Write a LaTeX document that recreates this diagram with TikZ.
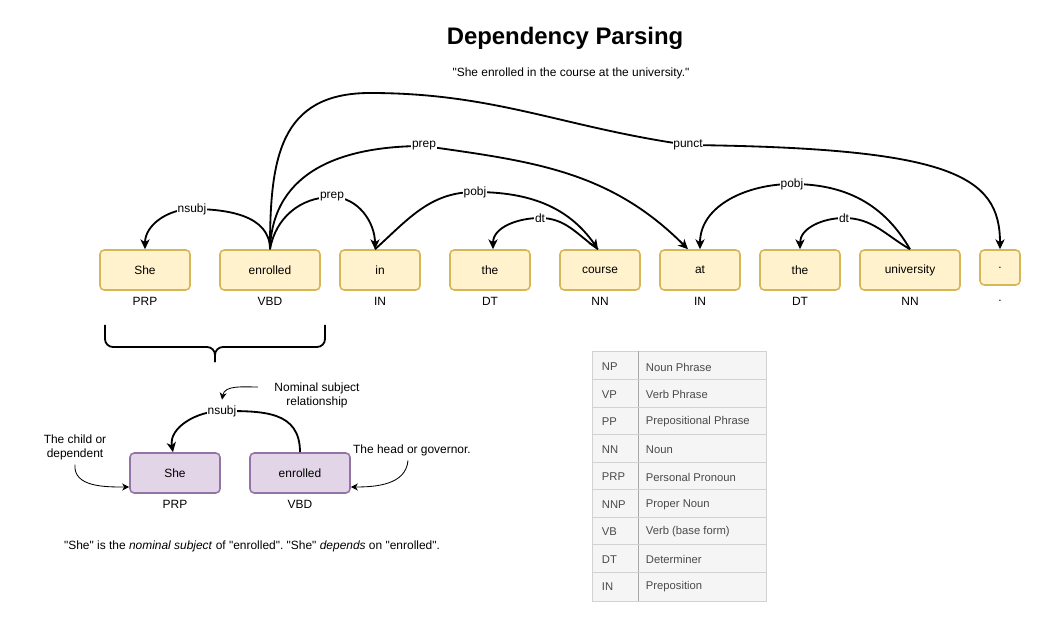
\documentclass[tikz,border=0pt]{standalone}
\usepackage{fontspec}
\setmainfont{Liberation Sans}[Ligatures=TeXOff]
\usepackage{tikz}
\usetikzlibrary{arrows.meta, positioning, calc}
\frenchspacing
\definecolor{wordfill}{HTML}{FFF2CC}
\definecolor{worddraw}{HTML}{D6B656}
\definecolor{pairfill}{HTML}{E1D5E7}
\definecolor{pairdraw}{HTML}{9673A6}
\definecolor{tblfill}{HTML}{F5F5F5}
\definecolor{tblrule}{HTML}{D2D2D2}
\definecolor{tbltext}{HTML}{4A4A4A}
\tikzset{
  word/.style={rectangle, draw=worddraw, fill=wordfill, minimum height=1cm,
    rounded corners=3pt, line width=1.1pt, font=\fontsize{8.5}{10}\selectfont},
  pair/.style={word, draw=pairdraw, fill=pairfill},
  tag/.style={font=\fontsize{8.5}{10}\selectfont},
  rel/.style={fill=white, inner sep=0.6pt, font=\fontsize{8.5}{10}\selectfont},
  dep/.style={-{Stealth[length=7pt,width=6.5pt,inset=2pt]}, line width=1.3pt},
  note/.style={align=center, font=\fontsize{8.5}{10}\selectfont},
  pointer/.style={-{Stealth[length=5pt,width=5pt,inset=1.5pt]}, line width=0.6pt},
  cell/.style={anchor=west, text=tbltext, font=\fontsize{8}{9.5}\selectfont}
}

\begin{document}
\begin{tikzpicture}[x=0.025cm, y=0.025cm]
    \useasboundingbox (0,0) rectangle (1041,-623);
    % Title
    \node[font=\fontsize{17}{20}\selectfont\bfseries] (title) at (565,-38) {Dependency Parsing};
    \node[font=\fontsize{8.5}{10}\selectfont] (sentence) at (571,-73) {"She enrolled in the course at the university."};
    % Words
    \node[word, minimum width=2.25cm] (she) at (145,-270) {She};
    \node[word, minimum width=2.5cm] (enrolled) at (270,-270) {enrolled};
    \node[word, minimum width=2cm] (in) at (380,-270) {in};
    \node[word, minimum width=2cm] (the) at (490,-270) {the};
    \node[word, minimum width=2cm] (course) at (600,-270) {course};
    \node[word, minimum width=2cm] (at) at (700,-270) {at};
    \node[word, minimum width=2cm] (thetwo) at (800,-270) {the};
    \node[word, minimum width=2.5cm] (university) at (910,-270) {university};
    \node[word, minimum width=1cm, minimum height=0.875cm] (dot) at (1000,-267.5) {.};
    % POS tags
    \node[tag] (tshe) at (145,-301) {PRP};
    \node[tag] (tenrolled) at (270,-301) {VBD};
    \node[tag] (tin) at (380,-301) {IN};
    \node[tag] (tthe) at (490,-301) {DT};
    \node[tag] (tcourse) at (600,-301) {NN};
    \node[tag] (tat) at (700,-301) {IN};
    \node[tag] (tthetwo) at (800,-301) {DT};
    \node[tag] (tuniversity) at (910,-301) {NN};
    \node[tag] (tdot) at (1000,-301) {.};
    % Arcs
    \draw[dep] (enrolled.north) to[out=90,in=180,looseness=1.25] (370,-93) to[out=0,in=172] (688,-145) node[rel] (lpunct) {punct}
      .. controls (950,-148) and (1000,-175) .. (dot.north);
    \draw[dep] (enrolled.north) to[out=88,in=180,looseness=1.1] (424,-146) node[rel] (lprepb) {prep}
      to[out=-8,in=135] ($(at.north)+(-12,0)$);
    \draw[dep] (enrolled.north) to[out=90,in=0] (192,-209) node[rel] (lnsubj) {nsubj} to[out=180,in=90] (she.north);
    \draw[dep] (enrolled.north) to[out=80,in=180] (332,-197) node[rel] (lprepa) {prep}
      to[out=0,in=90] ($(in.north)+(-5,0)$);
    \draw[dep] ($(in.north)+(-5,0)$) to[out=42,in=180] (475,-192) node[rel] (lpobja) {pobj}
      to[out=0,in=125] ($(course.north)+(-2,0)$);
    \draw[dep] ($(course.north)+(-2,0)$) to[out=145,in=0] (540,-218) node[rel] (ldta) {dt}
      to[out=180,in=90] ($(the.north)+(3,0)$);
    \draw[dep] (university.north) to[out=120,in=0] (792,-184) node[rel] (lpobjb) {pobj}
      to[out=180,in=90] (at.north);
    \draw[dep] (university.north) to[out=150,in=0] (844,-218) node[rel] (ldtb) {dt}
      to[out=180,in=90] (thetwo.north);
    % Brace
    \draw[line width=1.3pt, rounded corners=0.2cm] (105,-325) -- (105,-347) -- (215,-347) -- (215,-362);
    \draw[line width=1.3pt, rounded corners=0.2cm] (325,-325) -- (325,-347) -- (215,-347) -- (215,-362);
    % Example pair
    \node[pair, minimum width=2.25cm] (shepair) at (175,-473) {She};
    \node[pair, minimum width=2.5cm] (enrolledpair) at (300,-473) {enrolled};
    \node[tag] (tshepair) at (175,-504) {PRP};
    \node[tag] (tenrolledpair) at (300,-504) {VBD};
    \draw[dep] (enrolledpair.north) to[out=90,in=0,looseness=1.2] (222,-411) node[rel] (lnsubjpair) {nsubj}
      to[out=180,in=100] ($(shepair.north)+(-2,0)$);
    % Notes
    \node[note] (nomnote) at (317,-395) {Nominal subject\\relationship};
    \node[note] (childnote) at (75,-447) {The child or\\dependent};
    \node[note] (headnote) at (412,-450) {The head or governor.};
    \coordinate (nomtail) at (258,-387);
    \draw[pointer] (nomtail) to[out=180,in=80] ($(lnsubjpair.north)+(0,4)$);
    \draw[pointer] (childnote.south) to[out=-95,in=180] ($(shepair.west)+(0,-14)$);
    \draw[pointer] ($(headnote.south)+(-4,0)$) to[out=-95,in=0] ($(enrolledpair.east)+(0,-14)$);
    \node[font=\fontsize{8.5}{10}\selectfont] (caption) at (252,-546)
      {"She" is the \textit{nominal subject} of "enrolled". "She" \textit{depends} on "enrolled".};
    % Tag table
    \fill[tblfill] (592,-351) rectangle (766,-601);
    \draw[tblrule] (592,-351) rectangle (766,-601);
    \draw[tblrule!80!black] (638,-351) -- (638,-601);
    \foreach \i/\abbr/\desc in {0/NP/Noun Phrase, 1/VP/Verb Phrase, 2/PP/Prepositional Phrase,
        3/NN/Noun, 4/PRP/Personal Pronoun, 5/NNP/Proper Noun, 6/VB/Verb (base form),
        7/DT/Determiner, 8/IN/Preposition} {
      \node[cell] (abbr\i) at (597,{-367-27.5*\i}) {\abbr};
      \node[cell] (desc\i) at (641,{-367-27.5*\i}) {\desc};
    }
    \foreach \i in {1,...,8} {
      \draw[tblrule] (592,{-352-27.5*\i}) -- (766,{-352-27.5*\i});
    }
\end{tikzpicture}
\end{document}
